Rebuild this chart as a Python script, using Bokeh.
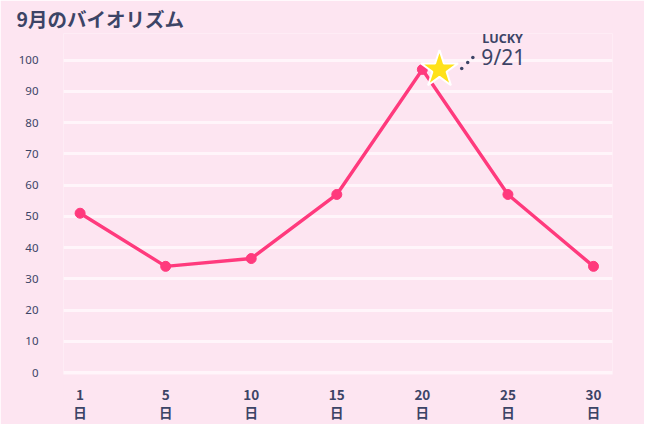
from bokeh.plotting import figure
from bokeh.models import Range1d, FixedTicker, Label
from bokeh.embed import file_html
from bokeh.resources import INLINE

# ---- data ----
days = ["1", "5", "10", "15", "20", "25", "30"]
values = [51, 34, 36.5, 57, 97, 57, 34]
y_ticks = [0, 10, 20, 30, 40, 50, 60, 70, 80, 90, 100]
title_text = "9月のバイオリズム"
lucky_label = "LUCKY"
lucky_date = "9/21"

BG = "#FDE5F1"
PINK = "#FF3A7D"
NAVY = "#3C4466"

idx = list(range(len(days)))

p = figure(width=644, height=424, output_backend="svg", toolbar_location=None,
           x_range=Range1d(-0.194, len(days) - 1 + 0.222),
           y_range=Range1d(-0.6, 108.5),
           min_border_left=63, min_border_right=32, min_border_top=30,
           min_border_bottom=48)
p.background_fill_color = BG
p.border_fill_color = BG
p.outline_line_color = None

p.title.text = title_text
p.title.text_font = "Noto Sans CJK JP"
p.title.text_font_size = "19.5px"
p.title.text_font_style = "bold"
p.title.text_color = NAVY
p.title.text_line_height = 1.0
p.title.align = "left"
p.title.offset = -47
p.title.standoff = 2

# grid
p.xgrid.visible = False
p.ygrid.ticker = FixedTicker(ticks=y_ticks)
p.ygrid.grid_line_color = "#FFF5FA"
p.ygrid.grid_line_width = 3

# y axis
p.yaxis.ticker = FixedTicker(ticks=y_ticks)
p.yaxis.axis_line_color = None
p.yaxis.major_tick_line_color = None
p.yaxis.minor_tick_line_color = None
p.yaxis.major_label_text_font = "Noto Sans"
p.yaxis.major_label_text_font_size = "11.5px"
p.yaxis.major_label_text_color = NAVY
p.yaxis.major_label_standoff = 19

# x axis
p.xaxis.ticker = FixedTicker(ticks=idx)
p.xaxis.major_label_overrides = {i: d + "\n日" for i, d in enumerate(days)}
p.xaxis.axis_line_color = None
p.xaxis.major_tick_line_color = None
p.xaxis.minor_tick_line_color = None
p.xaxis.major_label_text_font = "Noto Sans CJK JP"
p.xaxis.major_label_text_font_size = "13.5px"
p.xaxis.major_label_text_font_style = "bold"
p.xaxis.major_label_text_color = NAVY
p.xaxis.major_label_text_line_height = 0.92
p.xaxis.major_label_standoff = 3

# line + points
p.line(idx, values, line_color=PINK, line_width=3.4)
p.scatter(idx, values, size=10, fill_color=PINK, line_color=PINK)

# peak decoration
pk = values.index(max(values))
pv = values[pk]
p.scatter([pk + 0.2], [pv], marker="star", size=39, fill_color="#FFE11A",
          line_color="white", line_width=2)
p.scatter([pk + 0.46, pk + 0.53, pk + 0.59], [pv + 0.32, pv + 2.26, pv + 3.82],
          size=3.5, fill_color=NAVY, line_color=None)

p.add_layout(Label(x=pk, y=pv, x_offset=60, y_offset=31, text=lucky_label,
                   text_font="Noto Sans", text_font_size="12.5px", text_font_style="bold",
                   text_color=NAVY, text_baseline="middle", text_align="left"))
p.add_layout(Label(x=pk, y=pv, x_offset=59, y_offset=12, text=lucky_date,
                   text_font="Noto Sans", text_font_size="21px",
                   text_color=NAVY, text_baseline="middle", text_align="left"))

open("out.html", "w").write(file_html(p, INLINE))
